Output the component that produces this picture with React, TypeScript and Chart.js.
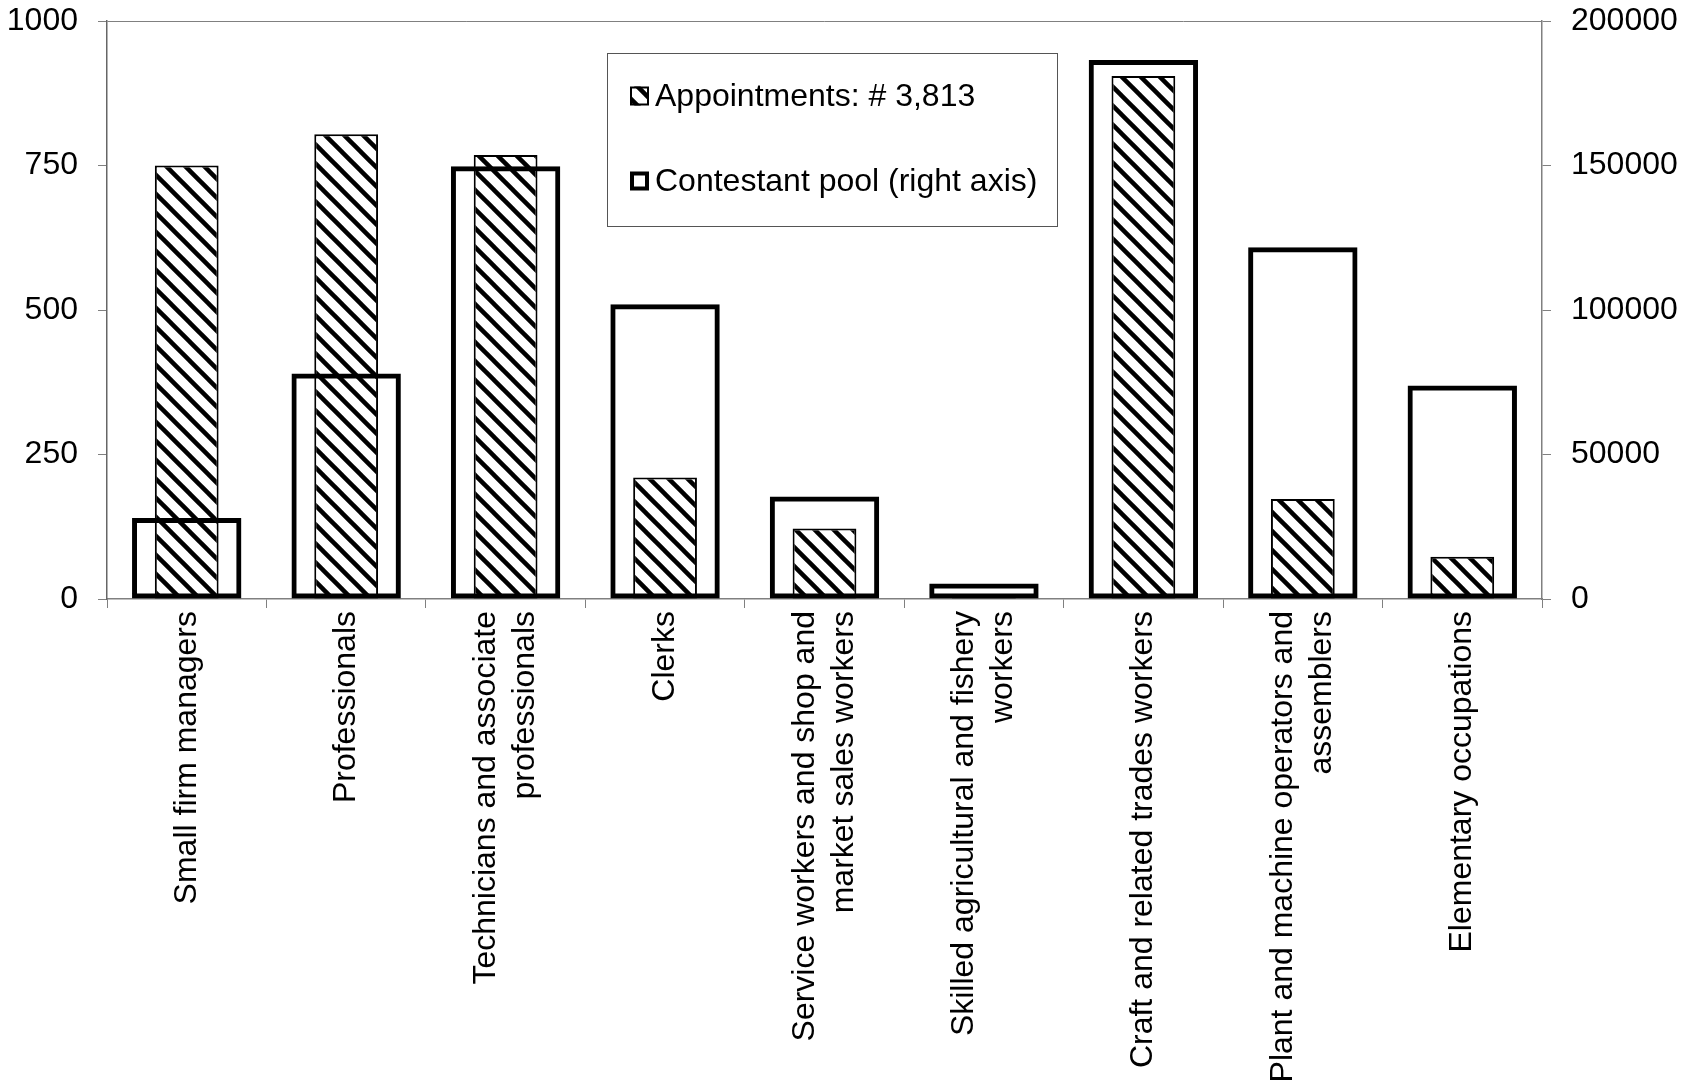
import React, { useEffect, useRef } from "react";
import { Chart, registerables } from "chart.js";

Chart.register(...registerables);

// Occupation categories (each entry holds the lines of its axis label)
const categoryLines: string[][] = [
  ["Small firm managers"],
  ["Professionals"],
  ["Technicians and associate", "professionals"],
  ["Clerks"],
  ["Service workers and shop and", "market sales workers"],
  ["Skilled agricultural and fishery", "workers"],
  ["Craft and related trades workers"],
  ["Plant and machine operators and", "assemblers"],
  ["Elementary occupations"],
];

// Appointments per occupation (left axis), total 3,813
const appointments: number[] = [750, 804, 768, 210, 122, 8, 905, 173, 73];

// Contestant pool per occupation (right axis)
const contestantPool: number[] = [28000, 78000, 149700, 102000, 35500, 5400, 186500, 121700, 73900];

const leftTicks: number[] = [0, 250, 500, 750, 1000];
const rightTicks: number[] = [0, 50000, 100000, 150000, 200000];

const appointmentsLabel = "Appointments: # 3,813";
const poolLabel = "Contestant pool (right axis)";

const FONT_FAMILY = "'Liberation Sans', Arial, Helvetica, sans-serif";
const FONT_SIZE = 32;
const AXIS_GRAY = "#808080";

function makeHatch(): CanvasPattern | string {
  const s = 19;
  const c = document.createElement("canvas");
  c.width = s;
  c.height = s;
  const g = c.getContext("2d");
  if (!g) return "#777";
  g.fillStyle = "#fff";
  g.fillRect(0, 0, s, s);
  g.strokeStyle = "#000";
  g.lineWidth = 4.5;
  for (const k of [-1, 0, 1]) {
    g.beginPath();
    g.moveTo(k * s - 3, -3);
    g.lineTo(k * s + s + 3, s + 3);
    g.stroke();
  }
  return g.createPattern(c, "repeat") || "#777";
}

// Rotated, block-centred category labels under the x axis
const categoryLabelPlugin = {
  id: "categoryLabels",
  afterDraw(chart: any) {
    const ctx: CanvasRenderingContext2D = chart.ctx;
    const xScale = chart.scales.x;
    const top = chart.chartArea.bottom + 12;
    const lineHeight = 39;
    ctx.save();
    ctx.font = `${FONT_SIZE}px ${FONT_FAMILY}`;
    ctx.fillStyle = "#000";
    ctx.textAlign = "right";
    ctx.textBaseline = "middle";
    categoryLines.forEach((lines, i) => {
      const cx = xScale.getPixelForValue(i);
      lines.forEach((line, j) => {
        const off = (j - (lines.length - 1) / 2) * lineHeight;
        ctx.save();
        ctx.translate(cx + off, top);
        ctx.rotate(-Math.PI / 2);
        ctx.fillText(line, 0, 0);
        ctx.restore();
      });
    });
    ctx.restore();
  },
};

// Boxed legend inside the plot area
const boxedLegendPlugin = {
  id: "boxedLegend",
  afterDraw(chart: any) {
    const ctx: CanvasRenderingContext2D = chart.ctx;
    const bx = 607;
    const by = 53;
    const bw = 450;
    const bh = 173;
    ctx.save();
    ctx.fillStyle = "#fff";
    ctx.fillRect(bx, by, bw, bh);
    ctx.strokeStyle = "#555";
    ctx.lineWidth = 1;
    ctx.strokeRect(bx + 0.5, by + 0.5, bw, bh);

    const hatchSet = chart.data.datasets[1];
    const poolSet = chart.data.datasets[0];
    const rows = [
      { y: 96, ds: hatchSet },
      { y: 181, ds: poolSet },
    ];
    const m = 19;
    const mx = 630;
    ctx.font = `${FONT_SIZE}px ${FONT_FAMILY}`;
    ctx.textAlign = "left";
    ctx.textBaseline = "middle";
    rows.forEach((r, idx) => {
      const my = r.y - m / 2;
      if (idx === 0) {
        ctx.fillStyle = r.ds.backgroundColor;
        ctx.fillRect(mx, my, m, m);
        ctx.strokeStyle = "#000";
        ctx.lineWidth = 2;
        ctx.strokeRect(mx + 1, my + 1, m - 2, m - 2);
      } else {
        ctx.fillStyle = "#fff";
        ctx.fillRect(mx, my, m, m);
        ctx.strokeStyle = "#000";
        ctx.lineWidth = 4;
        ctx.strokeRect(mx + 2, my + 2, m - 4, m - 4);
      }
      ctx.fillStyle = "#000";
      ctx.fillText(r.ds.label, 655, r.y + 1);
    });
    ctx.restore();
  },
};

export default function App() {
  const canvasRef = useRef<HTMLCanvasElement | null>(null);

  useEffect(() => {
    const canvas = canvasRef.current;
    if (!canvas) return;
    const hatch = makeHatch();
    const tickFont = { family: FONT_FAMILY, size: FONT_SIZE };
    const plain = (v: any) => String(v);

    const chart = new Chart(canvas, {
      type: "bar",
      data: {
        labels: categoryLines.map((l) => l.join(" ")),
        datasets: [
          {
            label: poolLabel,
            data: contestantPool,
            yAxisID: "y1",
            backgroundColor: "rgba(0,0,0,0)",
            borderColor: "#000",
            borderWidth: 5,
            borderSkipped: false,
            barPercentage: 0.686,
            categoryPercentage: 1,
            grouped: false,
            order: 1,
          } as any,
          {
            label: appointmentsLabel,
            data: appointments,
            yAxisID: "y",
            backgroundColor: hatch,
            borderColor: "#000",
            borderWidth: 2,
            borderSkipped: false,
            barPercentage: 0.4,
            categoryPercentage: 1,
            grouped: false,
            order: 2,
          } as any,
        ],
      },
      options: {
        responsive: false,
        animation: false,
        devicePixelRatio: 1,
        layout: { padding: { top: 21, left: 0, right: 0, bottom: 0 } },
        plugins: {
          legend: { display: false },
          tooltip: { enabled: false },
        },
        scales: {
          x: {
            type: "category",
            offset: true,
            grid: {
              offset: true,
              drawOnChartArea: false,
              color: AXIS_GRAY,
              tickLength: 9,
            },
            border: { color: AXIS_GRAY, width: 1.5 },
            ticks: { display: false },
            afterFit: (s: any) => {
              s.height = 1086 - 599;
              s.paddingLeft = 0;
              s.paddingRight = 0;
            },
          },
          y: {
            position: "left",
            min: 0,
            max: 1000,
            afterBuildTicks: (s: any) => {
              s.ticks = leftTicks.map((v) => ({ value: v }));
            },
            ticks: { font: tickFont, color: "#000", padding: 20, callback: plain },
            grid: {
              drawOnChartArea: true,
              color: (c: any) => (c.tick && c.tick.value === 1000 ? AXIS_GRAY : "rgba(0,0,0,0)"),
              tickColor: AXIS_GRAY,
              tickLength: 9,
            },
            border: { color: "#666", width: 1.5 },
            afterFit: (s: any) => {
              s.width = 107;
              s.paddingTop = 0;
              s.paddingBottom = 0;
            },
          },
          y1: {
            position: "right",
            min: 0,
            max: 200000,
            afterBuildTicks: (s: any) => {
              s.ticks = rightTicks.map((v) => ({ value: v }));
            },
            ticks: { font: tickFont, color: "#000", padding: 20, callback: plain },
            grid: {
              drawOnChartArea: false,
              color: AXIS_GRAY,
              tickLength: 9,
            },
            border: { color: AXIS_GRAY, width: 1.5 },
            afterFit: (s: any) => {
              s.width = 1692 - 1542;
              s.paddingTop = 0;
              s.paddingBottom = 0;
            },
          },
        },
      } as any,
      plugins: [categoryLabelPlugin, boxedLegendPlugin],
    });

    return () => {
      chart.destroy();
    };
  }, []);

  return (
    <div style={{ position: "absolute", left: 0, top: 0, width: 1692, height: 1086, background: "#fff" }}>
      <canvas ref={canvasRef} width={1692} height={1086} style={{ width: 1692, height: 1086, display: "block" }} />
    </div>
  );
}
